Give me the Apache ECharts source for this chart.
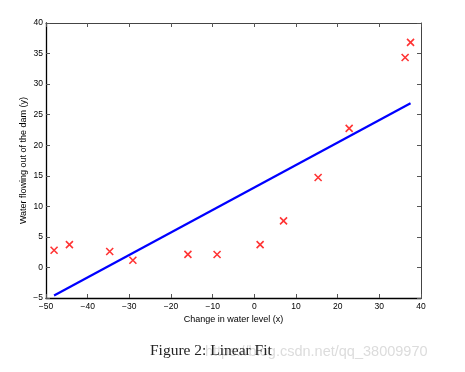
<!DOCTYPE html>
<html>
<head>
<meta charset="utf-8">
<script src="https://cdn.jsdelivr.net/npm/echarts@6/dist/echarts.min.js"></script>
<style>
html,body{margin:0;padding:0;background:#fff;}
#c{width:465px;height:372px;}
</style>
</head>
<body>
<div id="c"></div>
<script>
// Data
var xValues = [-15.94, -29.15, 36.19, 37.49, -48.06, -8.94, 15.31, -34.71, 1.39, -44.38, 7.01, 22.76];
var yValues = [2.13, 1.17, 34.36, 36.84, 2.81, 2.12, 14.71, 2.61, 3.74, 3.73, 7.63, 22.75];
var fitX = [-48.06, 37.49];
var fitY = [-4.58, 26.87];
var xName = 'Change in water level (x)';
var yName = 'Water flowing out of the dam (y)';
var caption = 'Figure 2: Linear Fit';
var watermark = 'https://blog.csdn.net/qq_38009970';

var scatterData = xValues.map(function(x, i){ return [x, yValues[i]]; });
var lineData = fitX.map(function(x, i){ return [x, fitY[i]]; });

var fmt = function(v){ return String(v).replace('-', '\u2212'); };
var tickFont = {fontFamily: 'Liberation Sans', fontSize: 8.5, color: '#000'};

var chart = echarts.init(document.getElementById('c'));
chart.setOption({
  animation: false,
  backgroundColor: '#fff',
  grid: {left: 46, top: 23, width: 375, height: 275},
  xAxis: [{
    type: 'value', min: -50, max: 40, interval: 10, position: 'bottom',
    name: xName, nameLocation: 'middle', nameGap: 17, nameMoveOverlap: false,
    nameTextStyle: {fontFamily: 'Liberation Sans', fontSize: 9, color: '#000'},
    axisLine: {onZero: false, lineStyle: {color: '#000', width: 1.3}},
    axisTick: {inside: true, length: 4, lineStyle: {color: '#555'}},
    axisLabel: Object.assign({margin: 4, formatter: fmt}, tickFont),
    splitLine: {show: false}
  }, {
    type: 'value', min: -50, max: 40, interval: 10, position: 'top',
    axisLine: {onZero: false, lineStyle: {color: '#444', width: 1}},
    axisTick: {inside: true, length: 4, lineStyle: {color: '#555'}},
    axisLabel: {show: false}, splitLine: {show: false}
  }],
  yAxis: [{
    type: 'value', min: -5, max: 40, interval: 5, position: 'left',
    name: yName, nameLocation: 'middle', nameGap: 18, nameMoveOverlap: false,
    nameTextStyle: {fontFamily: 'Liberation Sans', fontSize: 9, color: '#000'},
    axisLine: {onZero: false, lineStyle: {color: '#000', width: 1.3}},
    axisTick: {inside: true, length: 4, lineStyle: {color: '#555'}},
    axisLabel: Object.assign({margin: 3, formatter: fmt}, tickFont),
    splitLine: {show: false}
  }, {
    type: 'value', min: -5, max: 40, interval: 5, position: 'right',
    axisLine: {onZero: false, lineStyle: {color: '#444', width: 1}},
    axisTick: {inside: true, length: 4, lineStyle: {color: '#555'}},
    axisLabel: {show: false}, splitLine: {show: false}
  }],
  series: [{
    type: 'line', data: lineData, xAxisIndex: 0, yAxisIndex: 0,
    showSymbol: false, symbol: 'none',
    lineStyle: {color: '#0000ff', width: 2.2}
  }, {
    type: 'scatter', data: scatterData, xAxisIndex: 0, yAxisIndex: 0,
    symbol: 'path://M0,0L10,10M10,0L0,10', symbolSize: 7,
    itemStyle: {color: 'rgba(0,0,0,0)', borderColor: '#ff0000', borderWidth: 1.6}
  }],
  graphic: [{
    type: 'text', left: 205, top: 344, z: 1,
    style: {text: watermark, fontFamily: 'Liberation Sans', fontSize: 14.5, fill: '#dcdcdc'}
  }, {
    type: 'text', left: 150, top: 343, z: 2,
    style: {text: caption, fontFamily: 'Liberation Serif', fontSize: 15.5, fill: '#222'}
  }]
});
</script>
</body>
</html>
